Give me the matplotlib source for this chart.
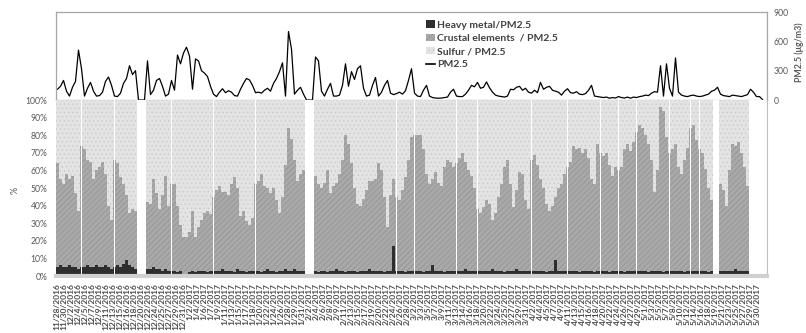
import numpy as np
import matplotlib
matplotlib.use("Agg")
import matplotlib.pyplot as plt
from matplotlib.patches import Patch
from matplotlib.lines import Line2D

plt.rcParams["font.family"] = ["Lato", "DejaVu Sans"]
plt.rcParams["hatch.linewidth"] = 0.4

nan = np.nan

# PM2.5 (ug/m3), one value per ~1.8 h slot
pm25 = [110, 140, 200, 90, 40, 130, 190, 510, 320, 40, 120, 180, 90, 40, 45, 80,
        190, 235, 150, 40, 35, 70, 170, 220, 350, 260, 300, 0, 0, 0, 400, 55,
        100, 200, 220, 140, 40, 60, 200, 100, 460, 370, 480, 540, 450, 110, 420, 400,
        300, 275, 240, 140, 60, 35, 80, 115, 75, 95, 80, 45, 40, 110, 170, 220,
        205, 150, 75, 80, 70, 100, 120, 90, 170, 220, 290, 380, 40, 700, 520, 60,
        100, 130, 60, 0, 0, 0, 440, 400, 90, 40, 110, 170, 40, 40, 50, 150,
        370, 140, 290, 210, 320, 350, 120, 40, 50, 150, 230, 40, 80, 150, 200, 70,
        55, 65, 80, 60, 95, 200, 320, 70, 40, 35, 100, 150, 40, 25, 20, 18,
        20, 25, 30, 80, 110, 40, 35, 35, 60, 100, 150, 135, 180, 120, 130, 185,
        125, 80, 50, 40, 35, 30, 40, 110, 105, 130, 140, 100, 120, 80, 70, 100,
        75, 180, 110, 130, 140, 100, 90, 80, 50, 90, 115, 75, 70, 85, 60, 55,
        65, 100, 150, 40, 35, 30, 25, 30, 18, 25, 20, 35, 25, 20, 30, 18,
        30, 25, 35, 40, 50, 45, 70, 85, 80, 350, 40, 370, 120, 40, 430, 80,
        50, 40, 35, 45, 50, 40, 35, 40, 50, 60, 90, 100, 130, 60, 45, 40,
        35, 50, 45, 40, 35, 45, 55, 110, 80, 35, 35, 5]

# heavy metal share of PM2.5 (%), nan = no data
heavy_metal = [5, 6, 5, 5, 6, 5, 5, 4, 5,
               5, 6, 5, 5, 6, 5, 5, 6, 5, 4, 5,
               6, 5, 7, 9, 6, 5, 4, nan, nan, nan,
               4, 4, 5, 4, 4, 3, 4, 3, 3,
               3, 2, 3, 1, 1, 2, 3, 2, 3, 3, 3, 2, 3, 3,
               3, 3, 4, 3, 3, 3, 2, 4, 3, 3, 2, 3, 3, 3,
               3, 2, 3, 4, 3, 3, 2, 3, 3, 4, 3, 3, 4, 3, 3, 3, nan, nan, nan,
               3, 2, 3, 3, 2, 3, 3, 4, 3, 3, 2, 3, 3, 3, 2, 3, 3, 3, 4, 3, 3, 3, 3, 2, 3, 3, 17, 3,
               3, 3, 2, 3, 3, 3,
               3, 3, 2, 3, 3, 6, 3, 3, 3, 2, 3, 3, 3, 3,
               3, 3, 4, 3, 3, 3, 3,
               3, 3, 3, 3, 4, 3, 3, 3, 2, 3, 3, 3, 4, 3, 3, 3, 3, 3,
               3, 3, 3, 3, 2, 3, 3, 9, 3, 3, 3, 3,
               3, 3, 3, 2, 3, 3, 3, 3, 2, 3, 3,
               3, 3, 2, 3, 3, 3,
               3, 2, 3, 3, 3, 3,
               3, 3, 3, 2, 3, 3, 3, 3, 2, 3, 3,
               3, 3, 3, 3, 2, 3, 3,
               3, 3, 3,
               3, 3, 2, 3, nan, nan,
               3, 3, 3, 3, 3, 4, 3, 3, 3, 3]

# upper edge of the crustal band (heavy metal + crustal), %
crustal_upper = [64, 55, 52, 58, 55, 57, 47, 37, 74,
                 72, 66, 65, 55, 60, 62, 65, 58, 40, 32, 66,
                 64, 56, 52, 46, 36, 38, 37, nan, nan, nan,
                 42, 41, 55, 47, 38, 46, 57, 40, 52,
                 52, 40, 29, 22, 22, 25, 37, 22, 28, 32, 36, 37, 35, 45,
                 49, 51, 48, 48, 46, 52, 56, 50, 34, 37, 31, 29, 33, 52,
                 54, 58, 51, 50, 47, 50, 43, 36, 45, 63, 84, 78, 66, 54, 58, 60, nan, nan, nan,
                 57, 52, 50, 53, 60, 47, 51, 53, 58, 66, 80, 75, 64, 50, 41, 40, 44, 49, 54, 54,
                 55, 64, 60, 45, 28, 46, 55, 45,
                 43, 49, 56, 66, 79, 80,
                 80, 80, 72, 58, 52, 55, 59, 53, 51, 62, 66, 65, 62, 64,
                 67, 70, 65, 60, 57, 50, 38,
                 36, 39, 43, 41, 32, 36, 45, 52, 62, 66, 52, 39, 49, 59, 58, 43, 38, 66,
                 69, 63, 55, 50, 41, 37, 40, 45, 50, 52, 58, 62,
                 65, 74, 72, 73, 70, 72, 67, 55, 52, 75, 70,
                 68, 70, 63, 57, 62, 60,
                 62, 72, 75, 71, 76, 82,
                 86, 84, 80, 75, 66, 48, 60, 96, 94, 79, 70,
                 72, 75, 62, 58, 66, 73, 84,
                 86, 77, 72,
                 70, 61, 50, 43, nan, nan,
                 52, 49, 40, 60, 75, 74, 76, 70, 62, 51]

# slots where the record breaks (thin white lines through the bars)
gap_slots = [8, 19, 38, 52, 66, 113, 119, 133, 140, 158, 170, 181, 187, 193,
             204, 211, 214]

date_labels = [
    "11/28/2016", "11/30/2016", "12/2/2016", "12/4/2016", "12/5/2016", "12/7/2016",
    "12/9/2016", "12/11/2016", "12/13/2016", "12/15/2016", "12/16/2016", "12/18/2016",
    "12/20/2016", "12/22/2016", "12/24/2016", "12/25/2016", "12/27/2016", "12/29/2016",
    "12/31/2016", "1/2/2017", "1/4/2017", "1/6/2017", "1/7/2017", "1/9/2017",
    "1/11/2017", "1/13/2017", "1/15/2017", "1/17/2017", "1/18/2017", "1/20/2017",
    "1/22/2017", "1/24/2017", "1/26/2017", "1/28/2017", "1/29/2017", "1/31/2017",
    "2/2/2017", "2/4/2017", "2/6/2017", "2/8/2017", "2/9/2017", "2/11/2017",
    "2/13/2017", "2/15/2017", "2/17/2017", "2/19/2017", "2/20/2017", "2/22/2017",
    "2/24/2017", "2/26/2017", "2/28/2017", "3/2/2017", "3/3/2017", "3/5/2017",
    "3/7/2017", "3/9/2017", "3/11/2017", "3/13/2017", "3/14/2017", "3/16/2017",
    "3/18/2017", "3/20/2017", "3/22/2017", "3/24/2017", "3/25/2017", "3/27/2017",
    "3/29/2017", "3/31/2017", "4/2/2017", "4/4/2017", "4/5/2017", "4/7/2017",
    "4/9/2017", "4/11/2017", "4/13/2017", "4/15/2017", "4/16/2017", "4/18/2017",
    "4/20/2017", "4/22/2017", "4/24/2017", "4/26/2017", "4/27/2017", "4/29/2017",
    "5/1/2017", "5/3/2017", "5/5/2017", "5/7/2017", "5/8/2017", "5/10/2017",
    "5/12/2017", "5/14/2017", "5/16/2017", "5/18/2017", "5/19/2017", "5/21/2017",
    "5/23/2017", "5/25/2017", "5/27/2017", "5/29/2017", "5/30/2017"]

n_slots = 237
gray_txt = "#595959"
c_heavy, c_crust, c_sulf = "#2e2e2e", "#a9a9a9", "#e3e3e3"

fig = plt.figure(figsize=(8.06, 3.33), dpi=100)
left, right = 56 / 806, 767 / 806
ax_top = fig.add_axes([left, 1 - 100 / 333, right - left, 88 / 333])
ax_bot = fig.add_axes([left, 1 - 276 / 333, right - left, 176 / 333])

# bottom: 100% stacked shares
heavy = np.array(heavy_metal, dtype=float)
upper = np.array(crustal_upper, dtype=float)
xb = np.arange(len(heavy))
ok = ~np.isnan(heavy)
bar_kw = dict(width=1.0, linewidth=0, antialiased=False)
ax_bot.bar(xb[ok], heavy[ok], color=c_heavy, **bar_kw)
ax_bot.bar(xb[ok], (upper - heavy)[ok], bottom=heavy[ok], color=c_crust,
           edgecolor="#8c8c8c", hatch="//////", **bar_kw)
ax_bot.bar(xb[ok], (100 - upper)[ok], bottom=upper[ok], color=c_sulf,
           edgecolor="#c6c6c6", hatch="....", **bar_kw)
ax_bot.bar(gap_slots, 100, width=0.4, color="white", linewidth=0)

ax_bot.set_xlim(-0.5, n_slots - 0.5)
ax_bot.set_ylim(0, 100)
ax_bot.set_yticks(np.arange(0, 101, 10))
ax_bot.set_yticklabels([f"{v}%" for v in range(0, 101, 10)])
ax_bot.set_xticks(np.linspace(-0.2, 233.2, len(date_labels)))
ax_bot.set_xticklabels(date_labels, rotation=90, fontsize=6.0,
                       fontweight="bold", color="#4d4d4d")
ax_bot.tick_params(axis="x", length=0, pad=5)
ax_bot.tick_params(axis="y", length=0, pad=6, labelsize=6.2, labelcolor=gray_txt)
for s in ["top", "left"]:
    ax_bot.spines[s].set_visible(False)
ax_bot.spines["right"].set_color("#bfbfbf")
ax_bot.spines["bottom"].set_color("#d0d0d0")
ax_bot.spines["bottom"].set_linewidth(3)
fig.text(15 / 806, 1 - 190 / 333, "%", rotation=90, ha="center", va="center",
         fontsize=6.5, color=gray_txt)

# top: PM2.5 line with its axis on the right
ax_top.plot(np.arange(len(pm25)), pm25, color="black", lw=0.9)
ax_top.set_xlim(-0.5, n_slots - 0.5)
ax_top.set_ylim(0, 900)
ax_top.set_xticks([])
ax_top.yaxis.tick_right()
ax_top.set_yticks([0, 300, 600, 900])
ax_top.tick_params(axis="y", length=0, pad=5, labelsize=6.2, labelcolor=gray_txt)
for s in ax_top.spines.values():
    s.set_color("#a6a6a6")
    s.set_linewidth(0.9)
fig.text(799 / 806, 1 - 52 / 333, "PM2.5 (μg/m3)", rotation=90, ha="center",
         va="center", fontsize=6.3, color=gray_txt, fontweight="bold")

handles = [
    Patch(facecolor=c_heavy, label="Heavy metal/PM2.5"),
    Patch(facecolor=c_crust, edgecolor="#8c8c8c", hatch="//////", lw=0,
          label="Crustal elements  / PM2.5"),
    Patch(facecolor=c_sulf, edgecolor="#c6c6c6", hatch="....", lw=0,
          label="Sulfur / PM2.5"),
    Line2D([], [], color="black", lw=1.2, label="PM2.5"),
]
leg = ax_top.legend(handles=handles, loc="upper left", bbox_to_anchor=(0.52, 0.905),
                    frameon=False, fontsize=7.5, handlelength=0.9, handleheight=0.7,
                    handletextpad=0.2, labelspacing=0.38, borderaxespad=0,
                    borderpad=0)
for t in leg.get_texts():
    t.set_color("#404040")
    t.set_fontweight("bold")

fig.savefig("out.png", dpi=100)
